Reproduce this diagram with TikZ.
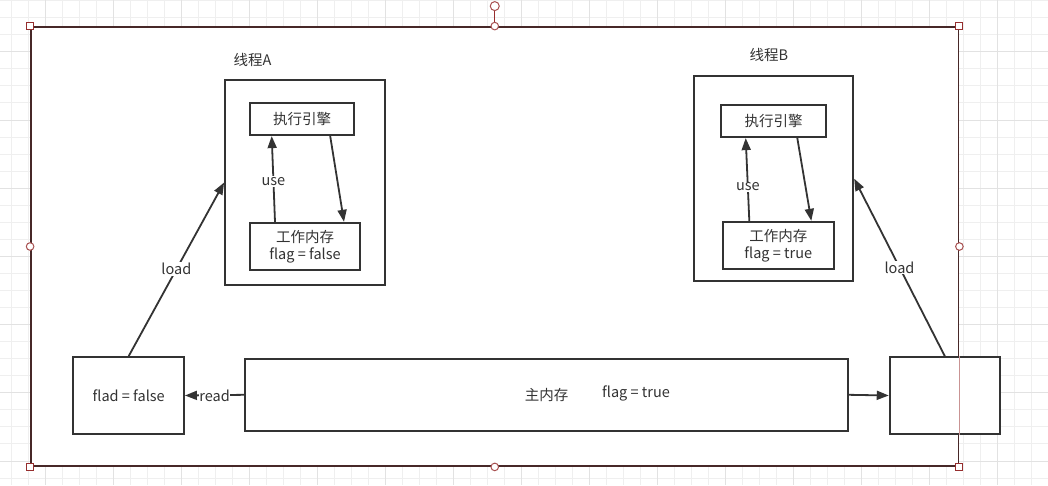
\documentclass[tikz,border=0pt]{standalone}
\usepackage{fontspec}
\setmainfont{Noto Sans CJK SC}
\usetikzlibrary{arrows.meta,calc}
\definecolor{ink}{HTML}{333333}
\definecolor{gridminor}{HTML}{EFEFEF}
\definecolor{gridmajor}{HTML}{E2E2E2}
\definecolor{selborder}{HTML}{472828}
\definecolor{selhandle}{HTML}{962E2E}
\definecolor{selcircle}{HTML}{A85050}
\definecolor{selline}{HTML}{C99393}
\tikzset{
  box/.style={draw=ink, line width=1.8pt, fill=white, inner sep=0pt, text=ink, align=center},
  txt/.style={inner sep=0pt, text=ink, align=center},
  conn/.style={draw=ink, line width=1.8pt, -{Triangle[length=12pt,width=9pt]}},
  lbl/.style={fill=white, inner sep=1pt, text=ink},
  sqhandle/.style={draw=selhandle, fill=white, line width=1pt},
  cihandle/.style={draw=selcircle, fill=white, line width=1pt},
}
\begin{document}
\begin{tikzpicture}[x=1pt,y=-1pt,font=\fontsize{14.5}{16.5}\selectfont]
\useasboundingbox (0,0) rectangle (1048,485);
\fill[white] (0,0) rectangle (1048,485);
% grid
\foreach \k in {0,...,61} \draw[gridminor, line width=0.8pt] ({11+17*\k},0) -- ({11+17*\k},485);
\foreach \k in {0,...,28} \draw[gridminor, line width=0.8pt] (0,{0.55+17.05*\k}) -- (1048,{0.55+17.05*\k});
\foreach \k in {0,...,14} \draw[gridmajor, line width=0.8pt] ({45+68*\k},0) -- ({45+68*\k},485);
\foreach \k in {0,...,6} \draw[gridmajor, line width=0.8pt] (0,{51.7+68.2*\k}) -- (1048,{51.7+68.2*\k});
% outer container
\node[draw=selborder, fill=white, line width=1.8pt, inner sep=0pt, minimum width=927.5pt, minimum height=439pt] (outer) at (494.75,246.5) {};
% thread boxes
\node[box, minimum width=160pt, minimum height=205pt] (thA) at (305,182.5) {};
\node[box, minimum width=159pt, minimum height=205pt] (thB) at (773.8,178.7) {};
\node[txt] (labA) at (252.5,60) {线程A};
\node[txt] (labB) at (769,55) {线程B};
\node[box, minimum width=104pt, minimum height=32pt] (eeA) at (302.2,119.2) {执行引擎};
\node[box, minimum width=110pt, minimum height=47.6pt] (wmA) at (305,246.5) {工作内存\\flag = false};
\node[box, minimum width=105pt, minimum height=32pt] (eeB) at (773.5,121.2) {执行引擎};
\node[box, minimum width=110.7pt, minimum height=47.6pt] (wmB) at (778.3,245.5) {工作内存\\flag = true};
% bottom row
\node[box, minimum width=110.7pt, minimum height=77pt] (flad) at (128.7,395.5) {flad = false};
\node[box, minimum width=603pt, minimum height=72.3pt] (main) at (546.5,394.8) {主内存};
\node[txt] (mainflag) at (636,393) {flag = true};
\node[box, minimum width=110.3pt, minimum height=77pt] (rbox) at (944.8,395.5) {};
% connectors inside threads
\draw[conn] ($(wmA.north)+(-30,0)$) -- node[lbl, pos=0.47] {use} ($(eeA.south)+(-30.5,0)$);
\draw[conn] ($(eeA.south)+(28,0)$) -- ($(wmA.north)+(39,0)$);
\draw[conn] ($(wmB.north)+(-29,0)$) -- node[lbl, pos=0.41] {use} ($(eeB.south)+(-27.8,0)$);
\draw[conn] ($(eeB.south)+(23.8,0)$) -- ($(wmB.north)+(33,0)$);
% load / read / write
\draw[conn] (flad.north) -- node[lbl, midway] {load} (thA.west);
\draw[conn] (rbox.north) -- node[lbl, midway] {load} (thB.east);
\draw[conn] (main.west) -- node[lbl, pos=0.5, yshift=-1pt, inner sep=0.5pt] {read} (flad.east);
\draw[conn] (main.east) -- (rbox.west);
% selection overlay
\draw[selline, line width=0.8pt] (outer.east |- rbox.north) -- (outer.east |- rbox.south);
\draw[selhandle, line width=1pt] (outer.north) -- ++(0,-15.5);
\draw[cihandle] ($(outer.north)+(0,-20)$) circle (4.5pt);
\foreach \a in {north west, north east, south west, south east}
  \draw[sqhandle] ($(outer.\a)+(-3.5,-3.5)$) rectangle ($(outer.\a)+(3.5,3.5)$);
\foreach \a in {north, south, west, east}
  \draw[cihandle] (outer.\a) circle (3.8pt);
\end{tikzpicture}
\end{document}
